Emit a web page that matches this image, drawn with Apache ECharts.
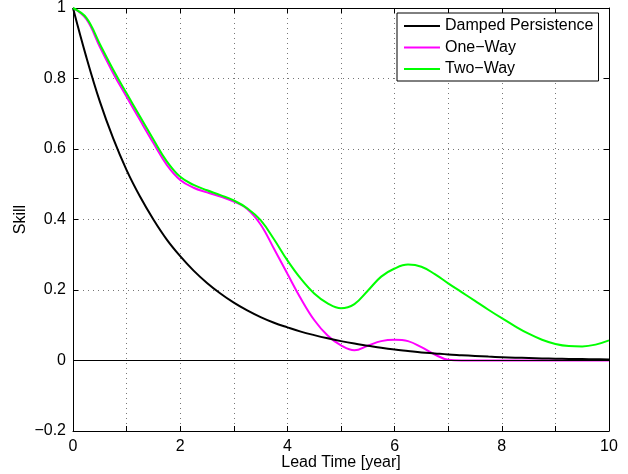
<!DOCTYPE html>
<html>
<head>
<meta charset="utf-8">
<script src="https://cdn.jsdelivr.net/npm/echarts@6/dist/echarts.min.js"></script>
<style>html,body{margin:0;padding:0;background:#fff}#c{width:628px;height:474px}</style>
</head>
<body>
<div id="c"></div>
<script>
const leadTime = [0,0.25,0.5,0.75,1,1.25,1.5,1.75,2,2.25,2.5,2.75,3,3.25,3.5,3.75,4,4.25,4.5,4.75,5,5.25,5.5,5.75,6,6.25,6.5,6.75,7,7.25,7.5,7.75,8,8.25,8.5,8.75,9,9.25,9.5,9.75,10];
const dampedPersistence = [1,0.86,0.735,0.63,0.54,0.465,0.4,0.343,0.296,0.255,0.22,0.19,0.164,0.142,0.123,0.107,0.094,0.082,0.072,0.063,0.055,0.048,0.042,0.036,0.031,0.027,0.023,0.02,0.017,0.015,0.013,0.011,0.0095,0.008,0.007,0.006,0.005,0.0045,0.004,0.0035,0.003];
const oneWay = [1,0.968,0.89,0.815,0.748,0.682,0.617,0.555,0.512,0.49,0.477,0.465,0.451,0.43,0.386,0.317,0.246,0.176,0.115,0.071,0.043,0.029,0.042,0.055,0.059,0.055,0.038,0.017,0.002,0,0,0,0,0,0,0,0,0,0,0,0];
const twoWay = [1,0.972,0.898,0.825,0.758,0.692,0.627,0.565,0.521,0.498,0.483,0.469,0.454,0.432,0.398,0.344,0.284,0.232,0.19,0.162,0.148,0.16,0.198,0.238,0.261,0.272,0.266,0.245,0.219,0.194,0.169,0.144,0.12,0.097,0.076,0.059,0.047,0.041,0.04,0.045,0.057];
const seriesNames = ['Damped Persistence','One\u2212Way','Two\u2212Way'];
const xTickLabels = ['0','2','4','6','8','10'];

const FONT = 'Liberation Sans';
const pair = arr => leadTime.map((t,i)=>[t,arr[i]]);
const chart = echarts.init(document.getElementById('c'), null, {renderer:'canvas'});
const fmtY = v => { const r = Math.round(v*10)/10; if (Math.abs(r) < 1e-9) return '0'; return (r<0?'\u2212':'') + String(Math.abs(r)); };
const baseLine = {
  type:'line', symbol:'none', showSymbol:false, smooth:0.4, animation:false,
  lineStyle:{width:2}
};
chart.setOption({
  animation:false,
  grid:{left:73, right:19, top:8, bottom:43, containLabel:false, outerBoundsMode:'none'},
  legend:{
    left:397, top:13, orient:'vertical', icon:'rect',
    backgroundColor:'#fff', borderColor:'#000', borderWidth:1, borderRadius:0,
    padding:[3,5,2,7], itemWidth:36, itemHeight:2, itemGap:1.5,
    textStyle:{fontFamily:FONT, fontSize:16, color:'#000', lineHeight:20},
    data:seriesNames
  },
  xAxis:[
    {type:'value', min:0, max:10, interval:1, position:'bottom',
     name:'Lead Time [year]', nameLocation:'middle', nameGap:24, nameMoveOverlap:false,
     nameTextStyle:{fontFamily:FONT, fontSize:16, color:'#000'},
     axisLine:{onZero:false, lineStyle:{color:'#000', width:1}},
     axisTick:{inside:true, length:5, lineStyle:{color:'#000'}},
     axisLabel:{margin:8, fontFamily:FONT, fontSize:16, color:'#000',
       formatter:v => xTickLabels.indexOf(String(v))>=0 ? String(v) : ''},
     splitLine:{show:true, lineStyle:{type:[1,4], color:'#777', width:1}}},
    {type:'value', min:0, max:10, interval:1, position:'top',
     axisLine:{onZero:false, lineStyle:{color:'#000', width:1}},
     axisTick:{inside:true, length:5, lineStyle:{color:'#000'}},
     axisLabel:{show:false}, splitLine:{show:false}}
  ],
  yAxis:[
    {type:'value', min:-0.2, max:1, interval:0.2, position:'left',
     name:'Skill', nameLocation:'middle', nameGap:44, nameRotate:90, nameMoveOverlap:false,
     nameTextStyle:{fontFamily:FONT, fontSize:16, color:'#000'},
     axisLine:{show:true, onZero:false, lineStyle:{color:'#000', width:1}},
     axisTick:{show:true, inside:true, length:5, lineStyle:{color:'#000'}},
     axisLabel:{margin:7, fontFamily:FONT, fontSize:16, color:'#000', formatter:fmtY},
     splitLine:{show:true, lineStyle:{type:[1,4], color:'#777', width:1}}},
    {type:'value', min:-0.2, max:1, interval:0.2, position:'right',
     axisLine:{show:true, onZero:false, lineStyle:{color:'#000', width:1}},
     axisTick:{show:true, inside:true, length:5, lineStyle:{color:'#000'}},
     axisLabel:{show:false}, splitLine:{show:false}}
  ],
  series:[
    Object.assign({}, baseLine, {name:seriesNames[0], data:pair(dampedPersistence), color:'#000', lineStyle:{width:2, color:'#000'}, z:3,
      markLine:{silent:true, symbol:'none', label:{show:false}, animation:false,
        lineStyle:{color:'#000', type:'solid', width:1.2}, data:[{yAxis:0}]}}),
    Object.assign({}, baseLine, {name:seriesNames[1], data:pair(oneWay), color:'#ff00ff', lineStyle:{width:2, color:'#ff00ff'}, z:2}),
    Object.assign({}, baseLine, {name:seriesNames[2], data:pair(twoWay), color:'#00ff00', lineStyle:{width:2, color:'#00ff00'}, z:4})
  ]
});
</script>
</body>
</html>
